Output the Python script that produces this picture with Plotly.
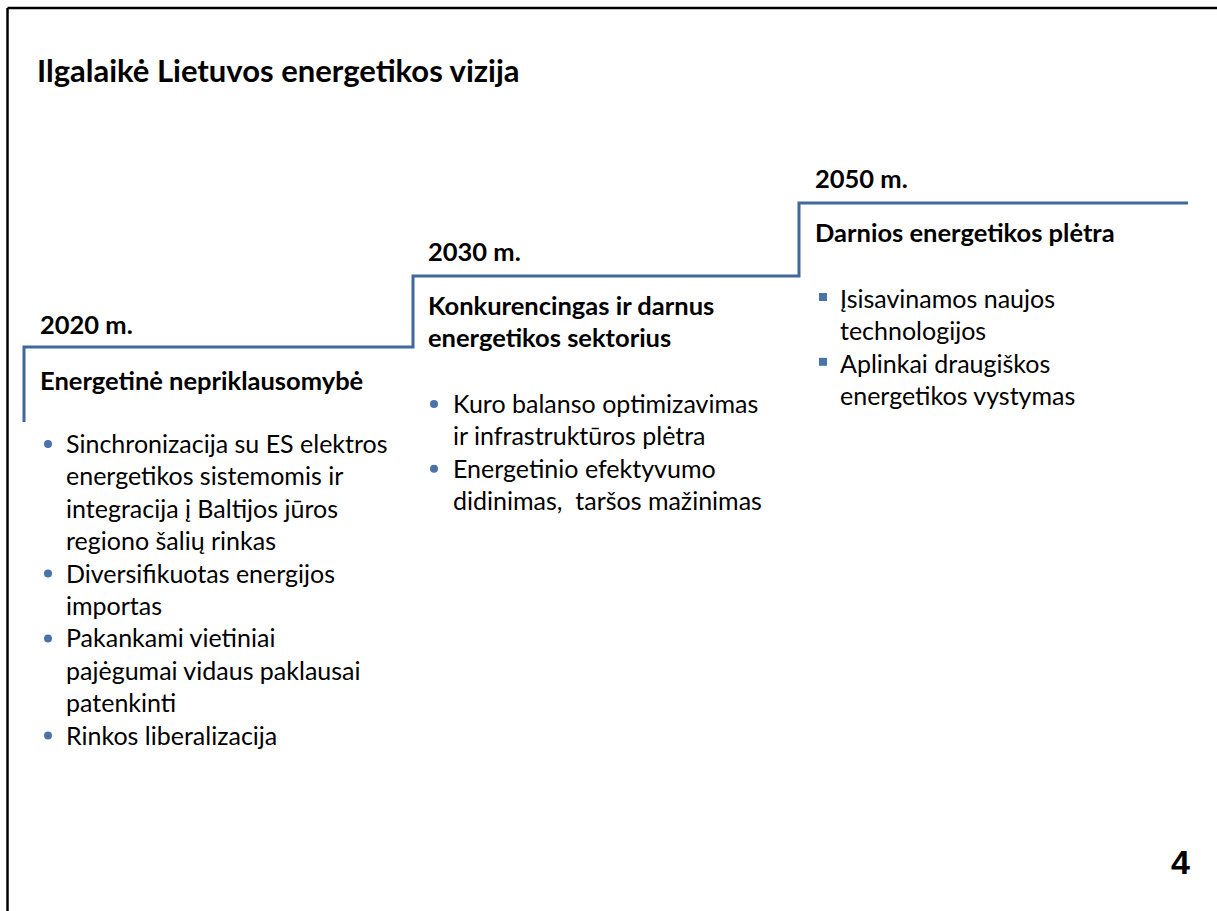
import plotly.graph_objects as go

# ---------------- data ----------------
title = "Ilgalaikė Lietuvos energetikos vizija"
years = ["2020 m.", "2030 m.", "2050 m."]
headings = [
    ["Energetinė nepriklausomybė"],
    ["Konkurencingas ir darnus", "energetikos sektorius"],
    ["Darnios energetikos plėtra"],
]
bullets_2020 = [
    ["Sinchronizacija su ES elektros", "energetikos sistemomis ir",
     "integracija į Baltijos jūros", "regiono šalių rinkas"],
    ["Diversifikuotas energijos", "importas"],
    ["Pakankami vietiniai", "pajėgumai vidaus paklausai", "patenkinti"],
    ["Rinkos liberalizacija"],
]
bullets_2030 = [
    ["Kuro balanso optimizavimas", "ir infrastruktūros plėtra"],
    ["Energetinio efektyvumo", "didinimas,  taršos mažinimas"],
]
bullets_2050 = [
    ["Įsisavinamos naujos", "technologijos"],
    ["Aplinkai draugiškos", "energetikos vystymas"],
]
bullets = [bullets_2020, bullets_2030, bullets_2050]
page_number = "4"

# step line (stair breakpoints) in slide coordinates
step_x = [24, 24, 413, 799, 1188]
step_y = [422, 347, 276, 203, 203]

# ---------------- layout config ----------------
W, H = 1217, 911
FONT = "Lato"
BLUE = "#41689B"
BULLET_BLUE = "#4A74A8"

col_x = [38, 426, 813]
year_y = [324, 251, 178]
head_y0 = [380, 305, 232]
bullet_text_x = [64, 451, 838]
bullet_mark_x = [48, 434, 823]
bullet_y0 = [443, 403, 298]
line_gap = 32.4
symbols = ["circle", "circle", "square"]
mark_dy = [0, 0, -2]

fig = go.Figure()

# step line
fig.add_trace(go.Scatter(x=step_x, y=step_y, mode="lines", line_shape="hv",
                         line=dict(color=BLUE, width=3), hoverinfo="skip",
                         showlegend=False))

annotations = []


def txt(x, y, s, size, bold=False, family=FONT):
    annotations.append(dict(
        x=x, y=y, xref="x", yref="y", text=f"<b>{s}</b>" if bold else s,
        showarrow=False, xanchor="left", yanchor="middle",
        font=dict(family=family, size=size, color="#000000")))


txt(35, 70, title, 31, bold=True)

for i in range(3):
    txt(col_x[i], year_y[i], years[i], 25.5, bold=True)
    for j, line in enumerate(headings[i]):
        txt(col_x[i], head_y0[i] + j * line_gap, line, 25.5, bold=True)
    mx, my = [], []
    k = 0
    for item in bullets[i]:
        mx.append(bullet_mark_x[i])
        my.append(bullet_y0[i] + k * line_gap + 1 + mark_dy[i])
        for line in item:
            txt(bullet_text_x[i], bullet_y0[i] + k * line_gap, line, 25)
            k += 1
    fig.add_trace(go.Scatter(x=mx, y=my, mode="markers",
                             marker=dict(symbol=symbols[i], size=8,
                                         color=BULLET_BLUE, line=dict(width=0)),
                             hoverinfo="skip", showlegend=False))

txt(1169, 862, page_number, 34, bold=True, family="Liberation Sans")

shapes = [
    dict(type="line", xref="paper", yref="paper", x0=7.5 / W, x1=1.0,
         y0=1 - 8 / H, y1=1 - 8 / H, line=dict(color="#000000", width=2.5)),
    dict(type="line", xref="paper", yref="paper", x0=7.5 / W, x1=7.5 / W,
         y0=0, y1=1 - 8 / H, line=dict(color="#000000", width=2.5)),
]

fig.update_layout(
    width=W, height=H,
    margin=dict(l=0, r=0, t=0, b=0),
    paper_bgcolor="white", plot_bgcolor="white",
    xaxis=dict(range=[0, W], visible=False, fixedrange=True),
    yaxis=dict(range=[H, 0], visible=False, fixedrange=True),
    annotations=annotations,
    shapes=shapes,
    showlegend=False,
)

fig.write_html("out.html", config={"displayModeBar": False},
               post_script="document.body.style.margin='0';"
                           "document.body.style.overflow='hidden';")
